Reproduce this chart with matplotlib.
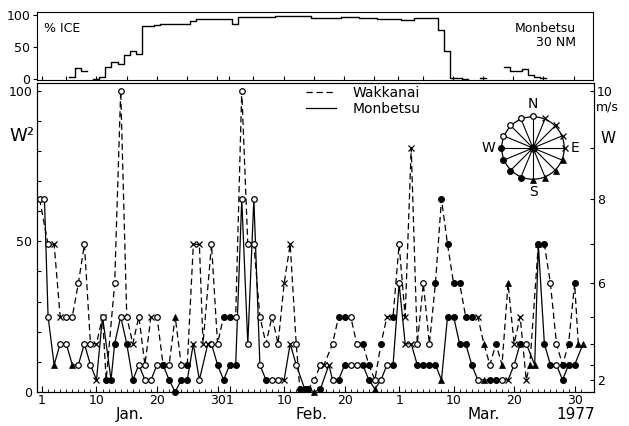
import numpy as np
import matplotlib
matplotlib.use("Agg")
import matplotlib.pyplot as plt

# days counted from 1 Jan 1977 (32 = 1 Feb, 60 = 1 Mar)
days = np.arange(1, 91)

# daily wind speed W (m/s) and direction class
# o = WNW..N (open circle), x = NNE..E, t = ESE..S (triangle), f = SSW..W (filled)
wak_w = [8, 7, 7, 5, 5, 5, 6, 7, 4, 4,
         5, 2, 6, 10, 5, 4, 5, 3, 5, 5,
         3, 3, 5, 3, 3, 7, 7, 4, 7, 4,
         5, 5, 5, 10, 7, 7, 5, 4, 5, 4,
         6, 7, 4, 1, 1, 2, 3, 3, 4, 5,
         5, 5, 4, 4, 3, 2, 4, 5, 5, 7,
         5, 9, 4, 6, 4, 6, 8, 7, 6, 6,
         5, 5, 5, 4, 3, 4, 3, 6, 4, 5,
         2, 3, 7, 7, 6, 4, 3, 4, 6, 4]
wak_dir = ("ooxxooooox" "xfoooxooxo" "ootofxxxoo" "ffoooooooo" "xxofoooxof"
           "fooffofxfo" "xxooofffff" "ffxtofttxx" "xtffooffft")
mon_w = [8, 5, 3, 4, 4, 3, 3, 4, 3, 2,
         5, 2, 4, 5, 4, 2, 3, 2, 2, 3,
         3, 2, 0, 2, 2, 4, 2, 4, 4, 3,
         2, 3, 3, 8, 4, 8, 3, 2, 2, 2,
         2, 4, 3, 1, 1, 0, 1, 3, 2, 2,
         3, 3, 3, 3, 2, 1, 2, 3, 3, 6,
         4, 4, 3, 3, 3, 3, 2, 5, 5, 4,
         4, 3, 2, 2, 2, 2, 2, 2, 3, 4,
         4, 3, 7, 4, 3, 3, 2, 3, 3, 4]
mon_dir = ("ootootooox" "offoffoooo" "fffffxoxof" "fffoooofoo" "xxofftfxof"
           "foofftoofo" "xxfffftfff" "ffotffoxof" "ottffoffft")

# sea ice off Monbetsu within 30 NM (%), nan where no trace is drawn
nan = np.nan
ice_pct = [nan, nan, nan, nan, nan, 3, 17, 13, nan, 0,
           3, 19, 27, 23, 37, 43, 39, 82, 82, 84,
           86, 86, 86, 86, 86, 90, 93, 93, 93, 93,
           93, 93, 86, 96, 96, 96, 97, 97, 97, 99,
           99, 99, 99, 99, 99, 95, 95, 95, 95, 95,
           97, 97, 96, 95, 95, 95, 94, 94, 93, 93,
           92, 92, 95, 95, 95, 95, 77, 43, 1, 1,
           0, nan, nan, 2, nan, nan, nan, 18, 12, 12,
           15, 7, 3, 1, nan, nan, nan, nan, nan, nan]

styles = {
    "o": dict(marker="o", mfc="white", mec="black", ms=4.0, mew=0.9),
    "f": dict(marker="o", mfc="black", mec="black", ms=4.2, mew=0.8),
    "x": dict(marker="x", mec="black", ms=3.8, mew=0.9),
    "t": dict(marker="^", mfc="black", mec="black", ms=4.6, mew=0.5),
}

plt.rcParams["font.family"] = "DejaVu Sans"
fig = plt.figure(figsize=(6.29, 4.26), dpi=100)

# ---- ice panel
ax0 = fig.add_axes([37 / 629, 1 - 80 / 426, 556 / 629, 68 / 426])
ax0.step(days, ice_pct, where="mid", color="black", lw=1.0)
ax0.set_xlim(0.17, 92.2)
ax0.set_ylim(-1.5, 104.5)
ax0.set_yticks([0, 50, 100])
t5 = [1, 5, 10, 15, 20, 25, 30]
ax0.set_xticks(t5 + [31 + d for d in t5[:-1]] + [59 + d for d in t5])
ax0.set_xticklabels([])
ax0.tick_params(direction="in", length=3, width=0.8, labelsize=9, pad=2)
ax0.tick_params(axis="y", direction="out", length=3)
ax0.text(0.012, 0.86, "% ICE", transform=ax0.transAxes, fontsize=9, va="top")
ax0.text(0.97, 0.86, "Monbetsu\n30 NM", transform=ax0.transAxes, fontsize=9,
         va="top", ha="right", linespacing=1.1, multialignment="right")

# ---- wind panel
ax = fig.add_axes([37 / 629, 1 - 392 / 426, 557 / 629, 309 / 426])
wak_sq = np.array(wak_w) ** 2
mon_sq = np.array(mon_w) ** 2
# identical marks on the same day are drawn side by side, as in the original
same = (wak_sq == mon_sq) & (np.array(list(wak_dir)) == np.array(list(mon_dir)))
wak_x = days - 0.4 * same
mon_x = days + 0.4 * same
ax.plot(wak_x, wak_sq, color="black", lw=0.9, ls=(0, (5, 3)), zorder=2, label="Wakkanai")
ax.plot(mon_x, mon_sq, color="black", lw=0.9, zorder=2, label="Monbetsu")
for xs, sq, dr in ((wak_x, wak_sq, wak_dir), (mon_x, mon_sq, mon_dir)):
    dr = np.array(list(dr))
    for k, st in styles.items():
        sel = dr == k
        ax.plot(xs[sel], sq[sel], ls="none", zorder=3, clip_on=False, **st)

ax.set_xlim(0.17, 92.2)
ax.set_ylim(0, 102.5)
ax.set_yticks([0, 50, 100])
ax.set_yticks(np.arange(0, 101, 10), minor=True)
ax.tick_params(axis="y", which="both", direction="in", length=3, width=0.8, labelsize=9)

lab_days = [1, 10, 20, 30, 32, 41, 51, 60, 69, 79, 89]
lab_text = ["1", "10", "20", "30", "1", "10", "20", "1", "10", "20", "30"]
ax.set_xticks(lab_days)
ax.set_xticklabels(lab_text)
ax.set_xticks(days, minor=True)
ax.tick_params(axis="x", which="major", direction="in", length=4, width=0.8, labelsize=9, pad=1.5)
ax.tick_params(axis="x", which="minor", direction="in", length=2, width=0.6)

xt = ax.get_xaxis_transform()
for x, s in ((15.5, "Jan."), (45.5, "Feb."), (74, "Mar."), (89.1, "1977")):
    ax.text(x, -0.047, s, transform=xt, ha="center", va="top", fontsize=11)
ax.text(-0.049, 0.83, "W²", transform=ax.transAxes, ha="left", va="center", fontsize=13)

ax2 = ax.twinx()
ax2.set_ylim(ax.get_ylim())
w_ticks = np.arange(2, 11)
ax2.set_yticks(w_ticks ** 2)
ax2.set_yticklabels([str(w) if w in (2, 6, 8, 10) else "" for w in w_ticks])
ax2.tick_params(direction="in", length=3, width=0.8, labelsize=9, pad=2)
ax2.text(1.003, 0.922, "m/s", transform=ax.transAxes, ha="left", va="center", fontsize=9)
ax2.text(1.011, 0.822, "W", transform=ax.transAxes, ha="left", va="center", fontsize=11)

ax.legend(loc="upper left", bbox_to_anchor=(0.46, 1.03), frameon=False, fontsize=10,
          handlelength=2.2, handletextpad=1.2, labelspacing=0.1)

# ---- wind rose key
rose = "oxxxxttttffffooo"  # N, NNE, ... clockwise
cp = fig.add_axes([483 / 629, 1 - 198 / 426, 100 / 629, 100 / 426])
cp.set_xlim(-1.6, 1.6)
cp.set_ylim(-1.6, 1.6)
cp.set_aspect("equal")
cp.axis("off")
th = np.linspace(0, 2 * np.pi, 200)
cp.plot(np.cos(th), np.sin(th), color="black", lw=0.9)
for i, k in enumerate(rose):
    a = np.radians(i * 22.5)
    cp.plot([0, np.sin(a)], [0, np.cos(a)], color="black", lw=0.8)
    cp.plot(1.03 * np.sin(a), 1.03 * np.cos(a), ls="none", **styles[k])
cp.plot(0, 0, "o", color="black", ms=5)
cp.text(0, 1.2, "N", ha="center", va="bottom", fontsize=10)
cp.text(0, -1.2, "S", ha="center", va="top", fontsize=10)
cp.text(1.2, 0, "E", ha="left", va="center", fontsize=10)
cp.text(-1.2, 0, "W", ha="right", va="center", fontsize=10)

fig.savefig("out.png", dpi=100)
